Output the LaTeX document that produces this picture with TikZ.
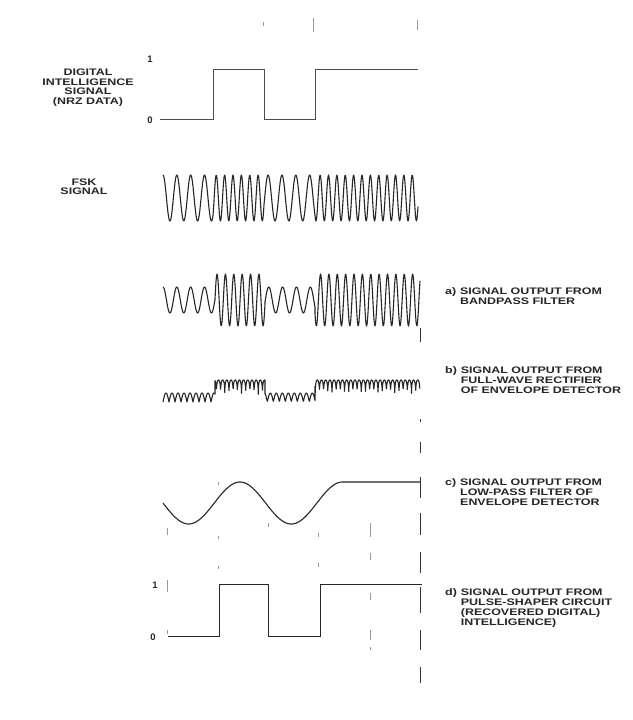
\documentclass[tikz,border=0pt]{standalone}
\usepackage{fontspec}
\usepackage{graphicx}
\newfontfamily\lblfont{Liberation Sans}
\newcommand\wide[1]{\scalebox{1.31}[1]{#1}}
\begin{document}
\begin{tikzpicture}[x=1pt,y=-1pt,
  lbl/.style={font=\lblfont\bfseries\fontsize{9.5}{10}\selectfont, inner sep=0pt, text=black!85},
  lblc/.style={lbl, font=\lblfont\bfseries\fontsize{9.5}{9.3}\selectfont},
  lbll/.style={lbl, anchor=north west},
  wave/.style={line width=1.1pt, black!85, line join=round},
  sq/.style={line width=1pt, black!85},
  sqthin/.style={line width=0.8pt, black!70},
  guide/.style={black!40, line width=0.6pt},
  rguide/.style={black!80, line width=0.9pt}]
\useasboundingbox[fill=white] (0,0) rectangle (632,720);

% ---------- left labels ----------
\node[lblc] (dig) at (88,88) {\wide{\begin{tabular}{@{}c@{}}DIGITAL\\INTELLIGENCE\\SIGNAL\\(NRZ DATA)\end{tabular}}};
\node[lblc] (fsk) at (84,188) {\wide{\begin{tabular}{@{}c@{}}FSK\\SIGNAL\end{tabular}}};

% ---------- top digital signal ----------
\node[lbl] (one1) at (150,59) {1};
\node[lbl] (zero1) at (150,120) {0};
\draw[sqthin] (160,119) -- (213,119) -- (213,69) -- (264,69) -- (264,119)
  -- (315,119) -- (315,69) -- (418,69);

% ---------- FSK signal ----------
\draw[wave]
  plot[domain=163:213, samples=101] (\x, {198 - 23*cos(26*(\x-163))})
  -- plot[domain=213:264, samples=103] (\x, {198 - 23*cos(1300 + 43*(\x-213))})
  -- plot[domain=264:315, samples=103] (\x, {198 - 23*cos(3493 + 26*(\x-264))})
  -- plot[domain=315:418, samples=207] (\x, {198 - 23*cos(4819 + 43*(\x-315))});

% ---------- a) bandpass output ----------
\draw[wave]
  plot[domain=163:215, samples=105] (\x, {300 - 13*cos(26*(\x-163))})
  -- plot[domain=215:265, samples=101] (\x, {300 - 26*cos(1352 + 43*(\x-215))})
  -- plot[domain=265:315, samples=101] (\x, {300 - 13*cos(3502 + 26*(\x-265))})
  -- plot[domain=315:420, samples=211] (\x, {300 - 26*cos(4802 + 43*(\x-315))});
\node[lbll] (la) at (445,287) {\wide{\begin{tabular}{@{}l@{\hspace{3pt}}l@{}}a) & SIGNAL OUTPUT FROM\\ & BANDPASS FILTER\end{tabular}}};

% ---------- b) rectifier output ----------
\draw[wave]
  plot[domain=163:215, samples=105] (\x, {402 - 9*abs(sin(30*(\x-163)))})
  -- plot[domain=215:265, samples=201] (\x, {402 - 22*pow(abs(sin(1560 + 43*(\x-215)))+0.001,0.2)})
  -- plot[domain=265:315, samples=101] (\x, {402 - 9*abs(sin(3710 + 30*(\x-265)))})
  -- plot[domain=315:420, samples=421] (\x, {402 - 22*pow(abs(sin(5210 + 43*(\x-315)))+0.001,0.2)});
\node[lbll] (lb) at (445,366) {\wide{\begin{tabular}{@{}l@{\hspace{3pt}}l@{}}b) & SIGNAL OUTPUT FROM\\ & FULL-WAVE RECTIFIER\\ & OF ENVELOPE DETECTOR\end{tabular}}};

% ---------- c) low-pass output ----------
\draw[wave] plot[domain=163:342.5, samples=180, smooth] (\x, {503 + 21*sin(3.5088*(\x-163))}) -- (420,482);
\node[lbll] (lc) at (445,478) {\wide{\begin{tabular}{@{}l@{\hspace{3pt}}l@{}}c) & SIGNAL OUTPUT FROM\\ & LOW-PASS FILTER OF\\ & ENVELOPE DETECTOR\end{tabular}}};

% ---------- d) pulse shaper output ----------
\node[lbl] (one2) at (155,585) {1};
\node[lbl] (zero2) at (153,637) {0};
\draw[sq] (168,636) -- (219,636) -- (219,584) -- (268,584) -- (268,636)
  -- (320,636) -- (320,584) -- (422,584);
\node[lbll] (ld) at (445,588) {\wide{\begin{tabular}{@{}l@{\hspace{3pt}}l@{}}d) & SIGNAL OUTPUT FROM\\ & PULSE-SHAPER CIRCUIT\\ & (RECOVERED DIGITAL)\\ & INTELLIGENCE)\end{tabular}}};

% ---------- bit-boundary guide marks ----------
\draw[guide] (263,22) -- (263,26);
\draw[guide] (313,18) -- (313,32);
\draw[guide] (417,20) -- (417,30);
% right boundary line
\draw[rguide] (420,328) -- (420,342);
\draw[rguide] (420,419) -- (420,422);
\draw[rguide] (420,442) -- (420,453);
\draw[rguide] (420,477) -- (420,498);
\draw[rguide] (420,513) -- (420,535);
\draw[rguide] (420,552) -- (420,573);
\draw[rguide] (420,587) -- (420,613);
\draw[rguide] (420,630) -- (420,650);
\draw[rguide] (420,667) -- (420,683);
% x = 370
\draw[guide] (370,523) -- (370,537);
\draw[guide] (370,553) -- (370,560);
\draw[guide] (370,593) -- (370,600);
\draw[guide] (370,630) -- (370,640);
\draw[guide] (370,647) -- (370,650);
% others
\draw[guide] (167,528) -- (167,535);
\draw[guide] (167,580) -- (167,592);
\draw[guide] (167,630) -- (167,634);
\draw[guide] (218,482) -- (218,485);
\draw[guide] (218,536) -- (218,539);
\draw[guide] (218,566) -- (218,569);
\draw[guide] (268,523) -- (268,527);
\draw[guide] (318,533) -- (318,537);
\draw[guide] (318,563) -- (318,567);
\end{tikzpicture}
\end{document}
